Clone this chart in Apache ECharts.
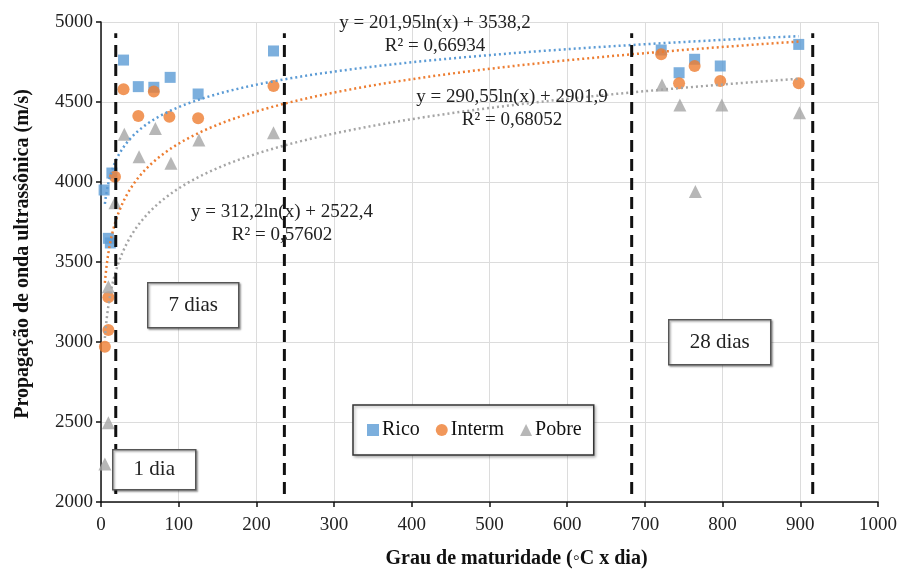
<!DOCTYPE html>
<html>
<head>
<meta charset="utf-8">
<style>
  html, body { margin: 0; padding: 0; background: #fff; }
  #container { width: 897px; height: 571px; }
</style>
<script src="https://cdn.jsdelivr.net/npm/echarts@6/dist/echarts.min.js"></script>
</head>
<body>
<div id="container"></div>
<script>
var dom = document.getElementById("container");
var myChart = echarts.init(dom);

// valores: [grau de maturidade, velocidade]
var ricoData = [
    [4, 3950], [9.5, 3648], [12, 3619], [14, 4056], [29, 4762], [48, 4596],
    [68, 4592], [89, 4654], [125, 4550], [222, 4819], [721, 4825], [744, 4683],
    [764, 4767], [797, 4725], [898, 4860]
];
var intermData = [
    [5, 2971], [9.5, 3075], [9.5, 3279], [18, 4033], [29, 4579], [48, 4412],
    [68, 4565], [88, 4408], [125, 4398], [222, 4600], [721, 4798], [744, 4617],
    [764, 4725], [797, 4631], [898, 4617]
];
var pobreData = [
    [5, 2237], [9.5, 2496], [9.5, 3346], [18, 3870], [30, 4298], [49, 4158],
    [70, 4335], [90, 4117], [126, 4262], [222, 4308], [722, 4606], [745, 4481],
    [765, 3940], [799, 4481], [899, 4433]
];

// linhas de tendência logarítmicas (coeficientes das equações do gráfico)
var seriesNames = ['Rico', 'Interm', 'Pobre'];
var trendCoef = [[201.95, 3538.2], [290.55, 2901.9], [312.2, 2522.4]];
var trendRange = [5, 898];
var trendText = [
    ['y = 201,95ln(x) + 3538,2', 'R² = 0,66934'],
    ['y = 290,55ln(x) + 2901,9', 'R² = 0,68052'],
    ['y = 312,2ln(x) + 2522,4', 'R² = 0,57602']
];

// linhas tracejadas que separam as idades
var dayLines = [19, 236, 683, 916];
var dayLineSpan = [2050, 4930];
var dayLabels = ['1 dia', '7 dias', '28 dias'];

var colors = ['#5b9bd5', '#ed7d31', '#a5a5a5'];
var symbols = ['rect', 'circle', 'triangle'];
var symbolSizes = [11, 12, 13];
var font = '"Liberation Serif", "Times New Roman", serif';

var trendLine = function (coef) {
    var pts = [];
    var steps = 120;
    var l0 = Math.log(trendRange[0]), l1 = Math.log(trendRange[1]);
    for (var i = 0; i <= steps; i++) {
        var x = Math.exp(l0 + (l1 - l0) * i / steps);
        pts.push([x, coef[0] * Math.log(x) + coef[1]]);
    }
    return pts;
};

var series = [];
[ricoData, intermData, pobreData].forEach(function (data, i) {
    series.push({
        name: seriesNames[i],
        type: 'scatter',
        data: data,
        symbol: symbols[i],
        symbolSize: symbolSizes[i],
        z: 2,
        itemStyle: { color: colors[i] }
    });
});
[ricoData, intermData, pobreData].forEach(function (data, i) {
    series.push({
        name: seriesNames[i] + ' tendência',
        type: 'line',
        data: trendLine(trendCoef[i]),
        showSymbol: false,
        silent: true,
        z: 3,
        lineStyle: { color: colors[i], width: 2.5, type: [2, 3] }
    });
});
dayLines.forEach(function (x) {
    series.push({
        type: 'line',
        data: [[x, dayLineSpan[0]], [x, dayLineSpan[1]]],
        showSymbol: false,
        silent: true,
        z: 4,
        lineStyle: { color: '#111', width: 3, type: [12, 7] }
    });
});

var boxText = function (left, top, w, h, text) {
    return {
        type: 'group',
        left: left,
        top: top,
        children: [
            {
                type: 'rect',
                z: 100,
                shape: { x: 0, y: 0, width: w, height: h },
                style: {
                    fill: '#fff', stroke: '#555', lineWidth: 1.5,
                    shadowBlur: 2, shadowOffsetX: 1.5, shadowOffsetY: 1.5,
                    shadowColor: 'rgba(0,0,0,0.35)'
                }
            },
            {
                type: 'text',
                z: 101,
                x: w / 2,
                y: h / 2,
                style: {
                    text: text, font: '21px ' + font, fill: '#222',
                    align: 'center', verticalAlign: 'middle'
                }
            }
        ]
    };
};

var eqText = function (cx, cy, lines) {
    return {
        type: 'text',
        x: cx,
        y: cy,
        z: 100,
        style: {
            text: lines.join('\n'), font: '19px ' + font, fill: '#222',
            align: 'center', verticalAlign: 'top', lineHeight: 23
        }
    };
};

var plainNumber = function (v) { return String(v); };

option = {
    backgroundColor: '#fff',
    textStyle: { fontFamily: font },
    grid: { left: 101, right: 19, top: 22, bottom: 69, containLabel: false, outerBoundsMode: 'none' },
    legend: {
        data: seriesNames,
        left: 353,
        top: 405,
        padding: [15, 12, 15, 14],
        itemWidth: 12,
        itemHeight: 12,
        itemGap: 16,
        backgroundColor: '#fff',
        borderColor: '#333',
        borderWidth: 1.5,
        shadowBlur: 3,
        shadowOffsetX: 1.5,
        shadowOffsetY: 1.5,
        shadowColor: 'rgba(0,0,0,0.3)',
        textStyle: { fontFamily: font, fontSize: 20, color: '#111', padding: [0, 0, 0, -2] }
    },
    xAxis: {
        type: 'value',
        min: 0,
        max: 1000,
        interval: 100,
        name: 'Grau de maturidade (◦C x dia)',
        nameLocation: 'middle',
        nameGap: 47,
        nameTextStyle: { fontFamily: font, fontSize: 20, fontWeight: 'bold', color: '#111', padding: [0, 0, 0, 54] },
        axisLine: { lineStyle: { color: '#111', width: 1.5 } },
        axisTick: { show: true, length: 5, lineStyle: { color: '#111', width: 1.5 } },
        axisLabel: { fontFamily: font, fontSize: 19, color: '#222', margin: 14, formatter: plainNumber },
        splitLine: { lineStyle: { color: '#dcdcdc', width: 1 } }
    },
    yAxis: {
        type: 'value',
        min: 2000,
        max: 5000,
        interval: 500,
        name: 'Propagação de onda ultrassônica (m/s)',
        nameLocation: 'middle',
        nameGap: 68,
        nameTextStyle: { fontFamily: font, fontSize: 20, fontWeight: 'bold', color: '#111', padding: [0, 0, 0, 16] },
        axisLine: { show: true, lineStyle: { color: '#111', width: 1.5 } },
        axisTick: { show: true, length: 5, lineStyle: { color: '#111', width: 1.5 } },
        axisLabel: { fontFamily: font, fontSize: 19, color: '#222', margin: 8, formatter: plainNumber },
        splitLine: { lineStyle: { color: '#dcdcdc', width: 1 } }
    },
    graphic: [
        boxText(147, 282, 91, 45, dayLabels[1]),
        boxText(112, 449, 83, 40, dayLabels[0]),
        boxText(668, 319, 102, 45, dayLabels[2]),
        eqText(435, 12, trendText[0]),
        eqText(512, 86, trendText[1]),
        eqText(282, 201, trendText[2])
    ],
    series: series
};

if (option && typeof option === "object") {
    myChart.setOption(option, true);
}
</script>
</body>
</html>
